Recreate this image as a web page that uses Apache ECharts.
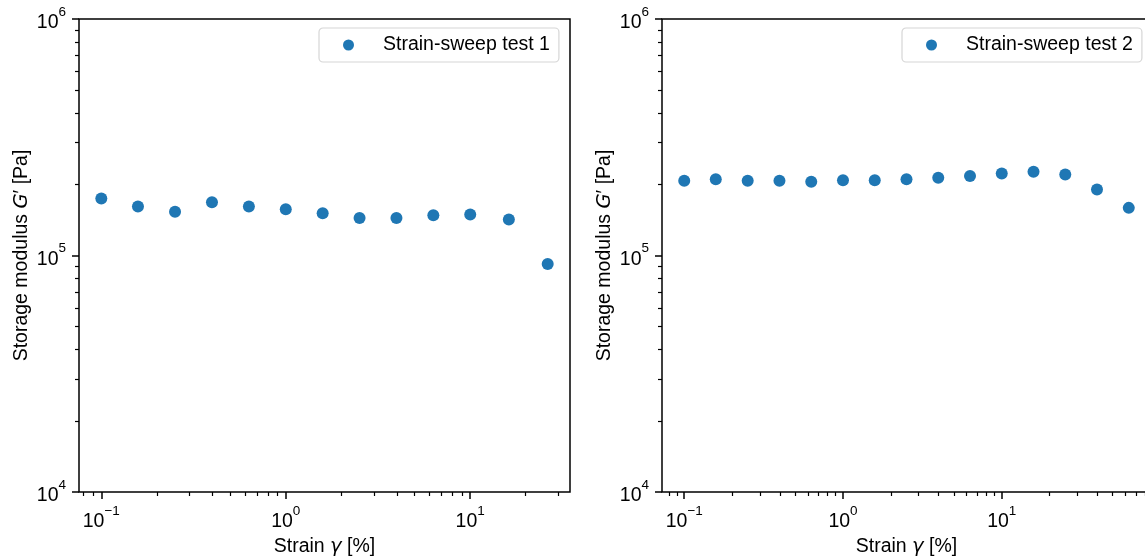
<!DOCTYPE html>
<html><head><meta charset="utf-8">
<script src="https://cdn.jsdelivr.net/npm/echarts@6/dist/echarts.min.js"></script>
<style>html,body{margin:0;padding:0;background:#fff}#c{width:1145px;height:556px}</style>
</head><body><div id="c"></div>
<script>
// ---- data ----
const strain1 = [0.1, 0.158, 0.251, 0.398, 0.631, 1.0, 1.585, 2.512, 3.981, 6.31, 10.0, 16.2, 26.3];
const modulus1 = [174000, 161000, 153000, 168000, 161000, 157000, 151000, 144000, 144000, 148000, 149000, 142000, 92000];
const strain2 = [0.1, 0.158, 0.251, 0.398, 0.631, 1.0, 1.585, 2.512, 3.981, 6.31, 10.0, 15.85, 25.12, 39.8, 63.1];
const modulus2 = [207000, 210000, 207000, 207000, 205000, 208000, 208000, 210000, 213000, 217000, 222000, 226000, 220000, 190000, 159000];
const seriesNames = ['Strain-sweep test 1', 'Strain-sweep test 2'];
const xMajorTicks = [0.1, 1, 10];
const yMajorTicks = [1e4, 1e5, 1e6];
const xMinorTicks = [0.08, 0.09, 0.2, 0.3, 0.4, 0.5, 0.6, 0.7, 0.8, 0.9, 2, 3, 4, 5, 6, 7, 8, 9, 20, 30, 40, 50, 60, 70, 80];
const yMinorTicks = [2e4, 3e4, 4e4, 5e4, 6e4, 7e4, 8e4, 9e4, 2e5, 3e5, 4e5, 5e5, 6e5, 7e5, 8e5, 9e5];
const yRange = [1e4, 1e6];
const xName = 'Strain {i|γ} [%]';
const yName = 'Storage modulus {i|G}′ [Pa]';

// ---- styling ----
const FONT = "'Liberation Sans', Arial, sans-serif";
const FS = 19.5;
const BLUE = '#1f77b4';

function logExtent(arr) {
  const lo = Math.log10(Math.min(...arr)), hi = Math.log10(Math.max(...arr));
  const m = 0.05 * (hi - lo);
  return [Math.pow(10, lo - m), Math.pow(10, hi + m)];
}
const ext1 = logExtent(strain1), ext2 = logExtent(strain2);

function powLabel(v) {
  const e = Math.round(Math.log10(v));
  return '{b|10}{s|' + String(e).replace('-', '−') + '}';
}
const labelRich = {
  b: {fontSize: FS, fontFamily: FONT, color: '#000', padding: [8, 0, 0, 0]},
  s: {fontSize: 13.5, fontFamily: FONT, color: '#000', verticalAlign: 'top'}
};
const nameStyle = {fontSize: FS, fontFamily: FONT, color: '#000',
  rich: {i: {fontSize: FS, fontFamily: "'DejaVu Sans'", fontStyle: 'italic', color: '#000'}}};

function xAxes(grid, ext) {
  return [
    {type: 'log', logBase: 10, gridIndex: grid, position: 'bottom', min: ext[0], max: ext[1],
     axisLine: {show: false}, splitLine: {show: false},
     axisTick: {show: true, length: 7, lineStyle: {color: '#000', width: 1.5}, customValues: xMajorTicks},
     axisLabel: {customValues: xMajorTicks, formatter: powLabel, rich: labelRich, margin: 12},
     name: xName, nameLocation: 'middle', nameGap: 37, nameTextStyle: nameStyle},
    {type: 'log', logBase: 10, gridIndex: grid, position: 'bottom', min: ext[0], max: ext[1],
     axisLine: {show: false}, splitLine: {show: false}, axisLabel: {show: false},
     axisTick: {show: true, length: 4, lineStyle: {color: '#000', width: 1.2},
       customValues: xMinorTicks.filter(v => v > ext[0] && v < ext[1])}}
  ];
}
function yAxes(grid) {
  return [
    {type: 'log', logBase: 10, gridIndex: grid, position: 'left', min: yRange[0], max: yRange[1],
     axisLine: {show: false}, splitLine: {show: false},
     axisTick: {show: true, length: 7, lineStyle: {color: '#000', width: 1.5}, customValues: yMajorTicks},
     axisLabel: {customValues: yMajorTicks, formatter: powLabel, rich: labelRich, margin: 13},
     name: yName, nameLocation: 'middle', nameGap: 47, nameRotate: 90, nameTextStyle: nameStyle},
    {type: 'log', logBase: 10, gridIndex: grid, position: 'left', min: yRange[0], max: yRange[1],
     axisLine: {show: false}, splitLine: {show: false}, axisLabel: {show: false},
     axisTick: {show: true, length: 4, lineStyle: {color: '#000', width: 1.2}, customValues: yMinorTicks}}
  ];
}
function legend(name, left) {
  return {data: [name], left: left, top: 28, orient: 'vertical', icon: 'circle',
    itemWidth: 11, itemHeight: 11, padding: [7, 9, 7, 24],
    backgroundColor: '#fff', borderColor: '#d6d6d6', borderWidth: 1.2, borderRadius: 4,
    textStyle: {fontSize: FS, fontFamily: FONT, color: '#000', padding: [0, 0, 0, 24]}};
}

const chart = echarts.init(document.getElementById('c'), null, {renderer: 'canvas'});
chart.setOption({
  animation: false,
  textStyle: {fontFamily: FONT},
  grid: [
    {left: 79, top: 19, width: 491, height: 473, show: true, borderColor: '#000', borderWidth: 1.5,
     backgroundColor: 'transparent', containLabel: false, outerBoundsMode: 'none'},
    {left: 662, top: 19, width: 489, height: 473, show: true, borderColor: '#000', borderWidth: 1.5,
     backgroundColor: 'transparent', containLabel: false, outerBoundsMode: 'none'}
  ],
  xAxis: [...xAxes(0, ext1), ...xAxes(1, ext2)],
  yAxis: [...yAxes(0), ...yAxes(1)],
  legend: [legend(seriesNames[0], 319), legend(seriesNames[1], 902)],
  series: [
    {name: seriesNames[0], type: 'scatter', xAxisIndex: 0, yAxisIndex: 0, symbolSize: 12,
     itemStyle: {color: BLUE, opacity: 1}, data: strain1.map((x, i) => [x, modulus1[i]])},
    {name: seriesNames[1], type: 'scatter', xAxisIndex: 2, yAxisIndex: 2, symbolSize: 12,
     itemStyle: {color: BLUE, opacity: 1}, data: strain2.map((x, i) => [x, modulus2[i]])}
  ]
});
</script></body></html>
